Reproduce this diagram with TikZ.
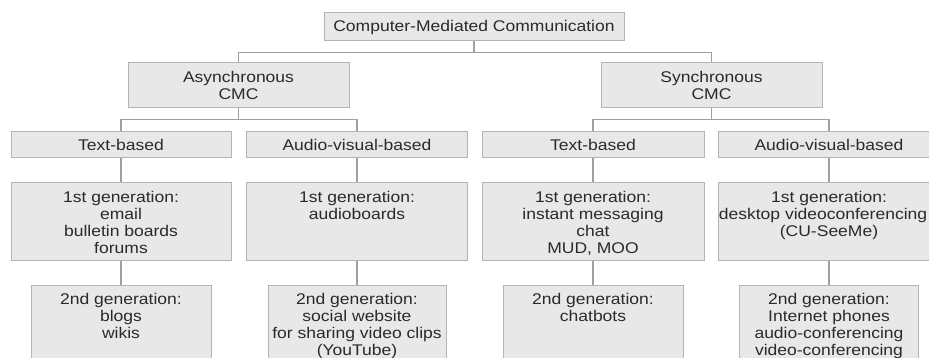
\documentclass[tikz,border=0pt]{standalone}
\usepackage{fontspec}
\setmainfont{Liberation Sans}[FakeStretch=1.13]
\definecolor{boxfill}{HTML}{E8E8E8}
\definecolor{boxline}{HTML}{B4B4B4}
\definecolor{linkline}{HTML}{A0A0A0}
\definecolor{ink}{HTML}{2A2A2A}
\newcommand{\gentxt}[3]{\parbox[c][#1pt][t]{#2pt}{\centering #3}}
\begin{document}
\begin{tikzpicture}[x=1pt,y=-1pt,
  box/.style={draw=boxline, fill=boxfill, line width=1pt, text=ink,
    font=\fontsize{15.5}{16.8}\selectfont, align=center, inner sep=0pt},
  link/.style={draw=linkline, line width=1.2pt}]
  \useasboundingbox (0,0) rectangle (929,358);
  \clip (0,0) rectangle (929,358);

  \node [box, minimum width=300, minimum height=28] (cmc) at (474,27) {Computer-Mediated Communication};

  \node [box, minimum width=221, minimum height=45] (async) at (238.5,85.5) {Asynchronous\\CMC};
  \node [box, minimum width=221, minimum height=45] (sync) at (711.5,85.5) {Synchronous\\CMC};

  \node [box, minimum width=220, minimum height=26] (atext) at (121,145) {Text-based};
  \node [box, minimum width=221, minimum height=26] (aav) at (357,145) {Audio-visual-based};
  \node [box, minimum width=222, minimum height=26] (stext) at (593,145) {Text-based};
  \node [box, minimum width=222, minimum height=26] (sav) at (829,145) {Audio-visual-based};

  % 1st generation
  \node [box, anchor=north, minimum width=220, inner ysep=9] (atextfirst) at (121,182)
    {\gentxt{60}{216}{1st generation:\\email\\bulletin boards\\forums}};
  \node [box, anchor=north, minimum width=221, inner ysep=9] (aavfirst) at (357,182)
    {\gentxt{60}{216}{1st generation:\\audioboards}};
  \node [box, anchor=north, minimum width=222, inner ysep=9] (stextfirst) at (593,182)
    {\gentxt{60}{216}{1st generation:\\instant messaging\\chat\\MUD, MOO}};
  \node [box, anchor=north, minimum width=222, inner ysep=9] (savfirst) at (829,182)
    {\gentxt{60}{216}{1st generation:\\\hspace*{-12pt}desktop videoconferencing\\(CU-SeeMe)}};

  % 2nd generation
  \node [box, anchor=north, minimum width=180, inner ysep=8] (atextsecond) at (121,285)
    {\gentxt{64}{176}{2nd generation:\\blogs\\wikis}};
  \node [box, anchor=north, minimum width=178, inner ysep=8] (aavsecond) at (357,285)
    {\gentxt{64}{176}{2nd generation:\\social website\\for sharing video clips\\(YouTube)}};
  \node [box, anchor=north, minimum width=180, inner ysep=8] (stextsecond) at (593,285)
    {\gentxt{64}{176}{2nd generation:\\chatbots}};
  \node [box, anchor=north, minimum width=179, inner ysep=8] (savsecond) at (829,285)
    {\gentxt{64}{176}{2nd generation:\\Internet phones\\audio-conferencing\\video-conferencing}};

  \draw [link] (cmc.south) -- ++(0,11) -| (async.north);
  \draw [link] (cmc.south) -- ++(0,11) -| (sync.north);
  \draw [link] (async.south) -- ++(0,11) -| (atext.north);
  \draw [link] (async.south) -- ++(0,11) -| (aav.north);
  \draw [link] (sync.south) -- ++(0,11) -| (stext.north);
  \draw [link] (sync.south) -- ++(0,11) -| (sav.north);

  \draw [link] (atext.south) -- (atextfirst.north);
  \draw [link] (aav.south) -- (aavfirst.north);
  \draw [link] (stext.south) -- (stextfirst.north);
  \draw [link] (sav.south) -- (savfirst.north);

  \draw [link] (atextfirst.south) -- (atextsecond.north);
  \draw [link] (aavfirst.south) -- (aavsecond.north);
  \draw [link] (stextfirst.south) -- (stextsecond.north);
  \draw [link] (savfirst.south) -- (savsecond.north);
\end{tikzpicture}
\end{document}
